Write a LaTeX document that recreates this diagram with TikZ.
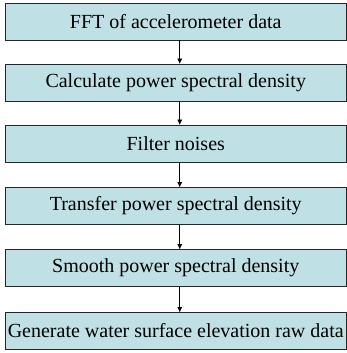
\documentclass[tikz,border=0pt]{standalone}
\usepackage{fontspec}
\setmainfont{Liberation Serif}
\usetikzlibrary{arrows.meta}
\definecolor{boxblue}{RGB}{191,224,228}
\tikzset{
    stepbox/.style={draw=black!85, line width=0.8pt, fill=boxblue, rectangle,
        minimum width=340.5pt, minimum height=37pt, inner sep=0pt,
        font=\fontsize{20}{24}\selectfont},
    flowarrow/.style={-{Triangle[length=5pt,width=4.5pt]}, line width=0.7pt, black}
}
\begin{document}
\begin{tikzpicture}[x=1pt, y=-1pt]
            \useasboundingbox (0,0) rectangle (347,353);

            % Schritte
            \node[stepbox] (fft) at (175.75,21.5) {FFT of accelerometer data};
            \node[stepbox] (psd) at (175.75,82.5) {Calculate power spectral density};
            \node[stepbox] (filter) at (175.75,143.5) {Filter noises};
            \node[stepbox] (transfer) at (175.75,206) {Transfer power spectral density};
            \node[stepbox] (smooth) at (175.75,268) {Smooth power spectral density};
            \node[stepbox] (elev) at (175.75,331) {Generate water surface elevation raw data};

            % Pfeile (leicht rechts der Mitte)
            \draw[flowarrow] ([xshift=4pt]fft.south) -- ([xshift=4pt]psd.north);
            \draw[flowarrow] ([xshift=4pt]psd.south) -- ([xshift=4pt]filter.north);
            \draw[flowarrow] ([xshift=4pt]filter.south) -- ([xshift=4pt]transfer.north);
            \draw[flowarrow] ([xshift=4pt]transfer.south) -- ([xshift=4pt]smooth.north);
            \draw[flowarrow] ([xshift=4pt]smooth.south) -- ([xshift=4pt]elev.north);
        \end{tikzpicture}
\end{document}
